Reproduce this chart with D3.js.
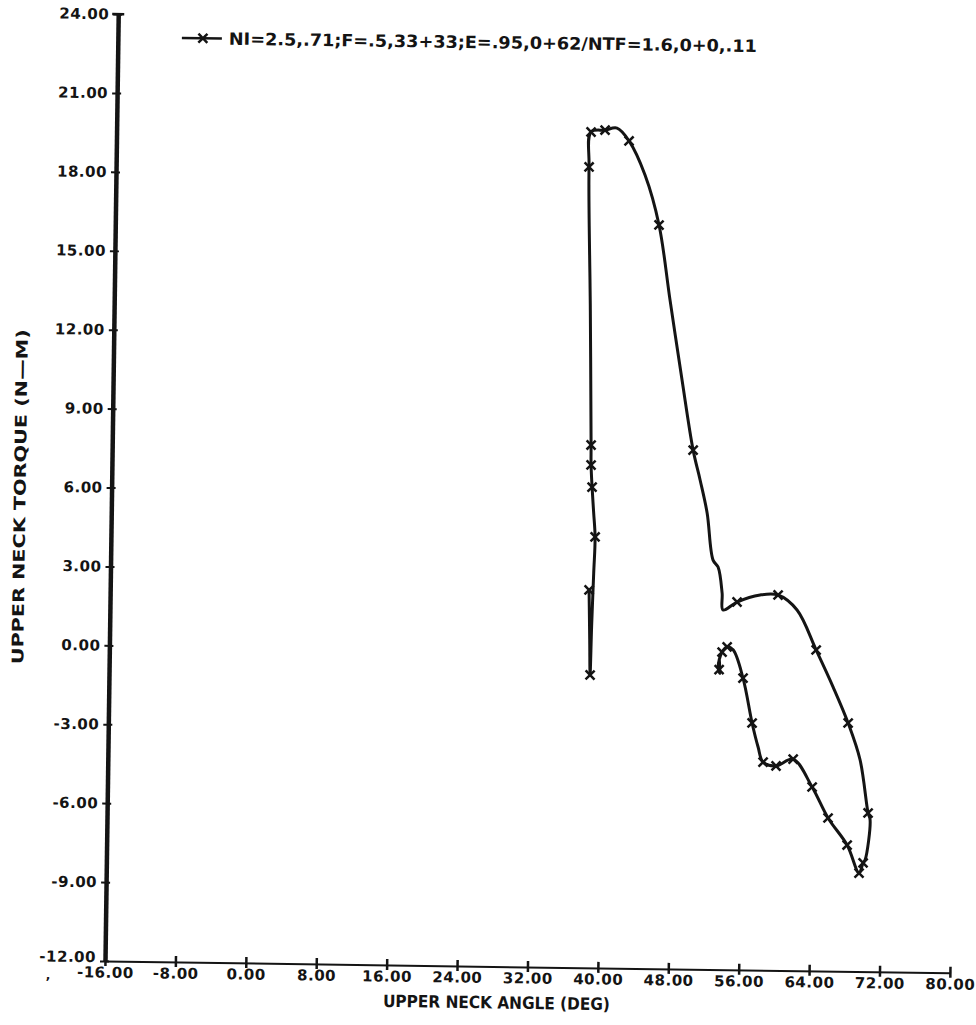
<!DOCTYPE html>
<html><head><meta charset="utf-8">
<script src="https://cdn.jsdelivr.net/npm/d3@7"></script>
<style>body{margin:0;background:#fff}</style>
</head><body>
<svg id="chart" width="976" height="1025"></svg>
<script>
// ---- data ----
const angle = [38.40, 38.55, 38.65, 38.75, 38.90, 39.00, 38.80, 38.58, 38.43, 38.40, 38.10, 37.73, 37.90,
  39.49, 40.85, 42.23, 44.10, 45.77, 47.14, 48.63, 50.00, 50.84, 51.69, 52.44, 53.02, 53.52, 53.65,
  55.23, 57.84, 59.88, 62.06, 64.29, 66.28, 68.04, 69.46, 70.45, 70.69, 70.18, 69.96, 69.52,
  68.12, 65.91, 64.05, 61.85, 59.92, 58.44, 57.85, 57.13, 56.03, 54.86, 54.17, 53.61, 53.18, 53.40, 53.30];
const torque = [2.36, 0.50, -0.87, 1.00, 3.00, 4.38, 5.30, 6.27, 7.11, 7.87, 13.00, 18.44, 19.77,
  19.85, 19.93, 19.45, 18.16, 16.27, 13.42, 10.39, 7.73, 6.60, 5.35, 3.56, 3.30, 2.31, 1.67,
  1.98, 2.26, 2.27, 1.71, 0.20, -1.20, -2.56, -3.96, -5.97, -6.23, -7.76, -7.87, -8.26,
  -7.20, -6.18, -5.01, -3.96, -4.23, -4.09, -3.52, -2.61, -0.91, 0.16, 0.27, 0.07, -0.50, -0.75, -0.20];
const markerAngle = [38.65, 38.40, 39.00, 38.58, 38.43, 38.40, 37.73, 37.90, 39.49, 42.23, 45.77, 50.00,
  55.23, 59.88, 64.29, 68.04, 70.45, 69.96, 69.52, 68.12, 65.91, 64.05, 61.85, 59.92, 58.44, 57.13,
  56.03, 54.17, 53.61, 53.30];
const markerTorque = [-0.87, 2.36, 4.38, 6.27, 7.11, 7.87, 18.44, 19.77, 19.85, 19.45, 16.27, 7.73,
  1.98, 2.27, 0.20, -2.56, -5.97, -7.87, -8.26, -7.20, -6.18, -5.01, -3.96, -4.23, -4.09, -2.61,
  -0.91, 0.27, 0.07, -0.60];
const xTicks = [-16, -8, 0, 8, 16, 24, 32, 40, 48, 56, 64, 72, 80];
const yTicks = [24, 21, 18, 15, 12, 9, 6, 3, 0, -3, -6, -9, -12];
const legendLabel = "NI=2.5,.71;F=.5,33+33;E=.95,0+62/NTF=1.6,0+0,.11";
const xTitle = "UPPER NECK ANGLE  (DEG)";
const yTitle = "UPPER NECK TORQUE  (N\u2014M)";

// ---- layout ----
const x0 = 105, x1 = 950, yTop = 14, yBot = 961;
const ink = "#141414";
const font = "'DejaVu Sans', sans-serif";
const fmt = d => d.toFixed(2);

const x = d3.scaleLinear().domain([-16, 80]).range([x0, x1]);
const y = d3.scaleLinear().domain([-12, 24]).range([yBot, yTop]);

const svg = d3.select("#chart");
svg.append("rect").attr("width", 976).attr("height", 1025).attr("fill", "#fff");
// the scanned sheet is slightly rotated
const g = svg.append("g").attr("transform", `rotate(0.8 ${x0} ${yBot})`);

// x axis
const xAxis = g.append("g").attr("transform", `translate(0,${yBot})`)
  .call(d3.axisBottom(x).tickValues(xTicks).tickFormat(fmt).tickSizeInner(5).tickSizeOuter(0).tickPadding(0));
xAxis.select(".domain").attr("stroke", ink).attr("stroke-width", 2);
xAxis.selectAll(".tick line").attr("stroke", ink).attr("stroke-width", 2.5).attr("y1", -6).attr("y2", 5);
xAxis.selectAll(".tick text").attr("fill", ink).attr("font-family", font).attr("font-weight", "bold")
  .attr("font-size", 15).attr("letter-spacing", 0.5).attr("y", 6).attr("dy", "0.71em");

// y axis
const yAxis = g.append("g").attr("transform", `translate(${x0},0)`)
  .call(d3.axisLeft(y).tickValues(yTicks).tickFormat(fmt).tickSizeInner(5).tickSizeOuter(0).tickPadding(4));
yAxis.select(".domain").attr("stroke", ink).attr("stroke-width", 4.5);
yAxis.selectAll(".tick line").attr("stroke", ink).attr("stroke-width", 2).attr("x1", 4);
yAxis.selectAll(".tick text").attr("fill", ink).attr("font-family", font).attr("font-weight", "bold")
  .attr("font-size", 15).attr("letter-spacing", 0.5)
  .attr("y", d => d === -12 ? -4 : 0);
// T cap at the top of the y axis
g.append("line").attr("x1", x0 - 6).attr("x2", x0 + 6).attr("y1", y(24)).attr("y2", y(24))
  .attr("stroke", ink).attr("stroke-width", 2.5);

// titles
g.append("text").attr("x", 497).attr("y", 1003).attr("text-anchor", "middle")
  .attr("font-family", font).attr("font-weight", "bold").attr("font-size", 17).attr("fill", ink)
  .attr("textLength", 227).attr("lengthAdjust", "spacingAndGlyphs").text(xTitle);
g.append("text").attr("transform", "translate(19,498) rotate(-90)").attr("text-anchor", "middle")
  .attr("font-family", font).attr("font-weight", "bold").attr("font-size", 16).attr("fill", ink)
  .attr("textLength", 335).attr("lengthAdjust", "spacingAndGlyphs").text(yTitle);
g.append("text").attr("x", 46).attr("y", 980).attr("font-family", font).attr("font-weight", "bold")
  .attr("font-size", 12).attr("fill", ink).text(",");

// data line
const pts = angle.map((a, i) => [a, torque[i]]);
const line = d3.line().x(d => x(d[0])).y(d => y(d[1])).curve(d3.curveCatmullRom.alpha(0.5));
g.append("path").attr("d", line(pts)).attr("fill", "none").attr("stroke", ink)
  .attr("stroke-width", 3).attr("stroke-linejoin", "round").attr("stroke-linecap", "round");

const cross = "M-4.5,-4.5L4.5,4.5M-4.5,4.5L4.5,-4.5";
g.selectAll(".mk").data(markerAngle.map((a, i) => [a, markerTorque[i]])).join("path")
  .attr("class", "mk").attr("d", cross)
  .attr("transform", d => `translate(${x(d[0])},${y(d[1])})`)
  .attr("stroke", ink).attr("stroke-width", 2.5).attr("fill", "none");

// legend
const lg = g.append("g").attr("transform", "translate(169,37)");
lg.append("line").attr("x1", 0).attr("x2", 40).attr("stroke", ink).attr("stroke-width", 2.5);
lg.append("path").attr("d", cross).attr("transform", "translate(21,0)")
  .attr("stroke", ink).attr("stroke-width", 2.5).attr("fill", "none");
lg.append("text").attr("x", 47).attr("y", 6).attr("font-family", font).attr("font-weight", "bold")
  .attr("font-size", 17).attr("fill", ink).attr("textLength", 528).attr("lengthAdjust", "spacingAndGlyphs")
  .text(legendLabel);
</script>
</body></html>
